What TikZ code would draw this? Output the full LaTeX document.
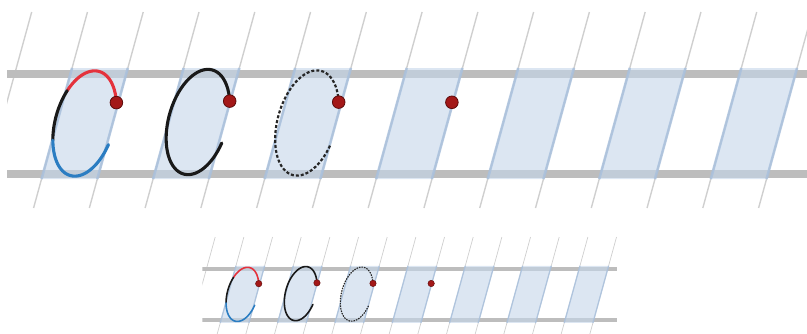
\documentclass[tikz,border=0pt]{standalone}
\definecolor{bandgray}{HTML}{BDBDBD}
\definecolor{slantgray}{HTML}{CFCFCF}
\definecolor{cellfill}{HTML}{C5D6EA}
\definecolor{cellborder}{HTML}{A8C0DD}
\definecolor{strokered}{HTML}{E4323C}
\definecolor{strokeblue}{HTML}{2B7DC2}
\definecolor{dotred}{HTML}{A31818}
\definecolor{dotedge}{HTML}{5C0B0B}
\tikzset{
  slantline/.style={draw=slantgray, line width=1.4pt},
  band/.style={draw=bandgray, line width=8pt},
  cellfillstyle/.style={fill=cellfill, fill opacity=0.6},
  celledge/.style={draw=cellborder, draw opacity=0.8, line width=2.6pt},
  inkred/.style={draw=strokered, line width=3.1pt, line cap=round},
  inkblack/.style={draw=black!90, line width=3.1pt, line cap=round},
  inkblue/.style={draw=strokeblue, line width=3.1pt, line cap=round},
  inkdash/.style={draw=black!85, line width=2.2pt, dash pattern=on 3pt off 2pt},
  startdot/.style={fill=dotred, draw=dotedge, line width=0.8pt}
}
% arc of the slanted oval centred at (#1,#2), from angle #3 to #4, style #5
\newcommand\ovalarc[5]{\draw[#5] plot[domain=#3:#4, samples=60, variable=\t, smooth]
  ({#1 + 28.44*cos(\t) + 14.34*sin(\t)}, {#2 + 7.835*cos(\t) - 52.06*sin(\t)});}
\newcommand\drawsheet{%
  \begin{scope}
    \clip (7,0) rectangle (813,220);
    \foreach \k in {0,...,15} {
      \pgfmathsetmacro\xt{31.7+55.77*\k}
      \draw[slantline] (\xt,12) -- ({\xt-0.275*196},208);
    }
    \draw[band] (7,73.5) -- (813,73.5);
    \draw[band] (7,174) -- (813,174);
    \foreach \j in {0,...,6} {
      \pgfmathsetmacro\xa{31.7+55.77*(2*\j+1)}
      \pgfmathsetmacro\xb{\xa+55.77}
      \fill[cellfillstyle] ({\xa-0.275*56},68) -- ({\xb-0.275*56},68)
        -- ({\xb-0.275*167},179) -- ({\xa-0.275*167},179) -- cycle;
      \draw[celledge] ({\xa-0.275*56},68) -- ({\xa-0.275*167},179);
      \draw[celledge] ({\xb-0.275*56},68) -- ({\xb-0.275*167},179);
    }
  \end{scope}
  % first cell: coloured strokes
  \ovalarc{84.7}{123.5}{32}{150}{inkred}
  \ovalarc{84.7}{123.5}{150}{207}{inkblack}
  \ovalarc{84.7}{123.5}{207}{345}{inkblue}
  % second cell: black stroke
  \ovalarc{198}{122}{32}{345}{inkblack}
  % third cell: dashed stroke
  \ovalarc{307}{123}{32}{345}{inkdash}
  % start dots
  \fill[startdot] (116.4,102.6) circle (6.3);
  \fill[startdot] (229.7,101.1) circle (6.3);
  \fill[startdot] (338.7,102.1) circle (6.3);
  \fill[startdot] (451.9,102.3) circle (6.3);
}
\begin{document}
\begin{tikzpicture}[x=1pt, y=-1pt]
  \useasboundingbox (0,0) rectangle (807,333);
  \drawsheet
  \begin{scope}[transform canvas={xshift=198.9pt, yshift=-230.9pt, scale=0.514}]
    \drawsheet
  \end{scope}
\end{tikzpicture}
\end{document}
